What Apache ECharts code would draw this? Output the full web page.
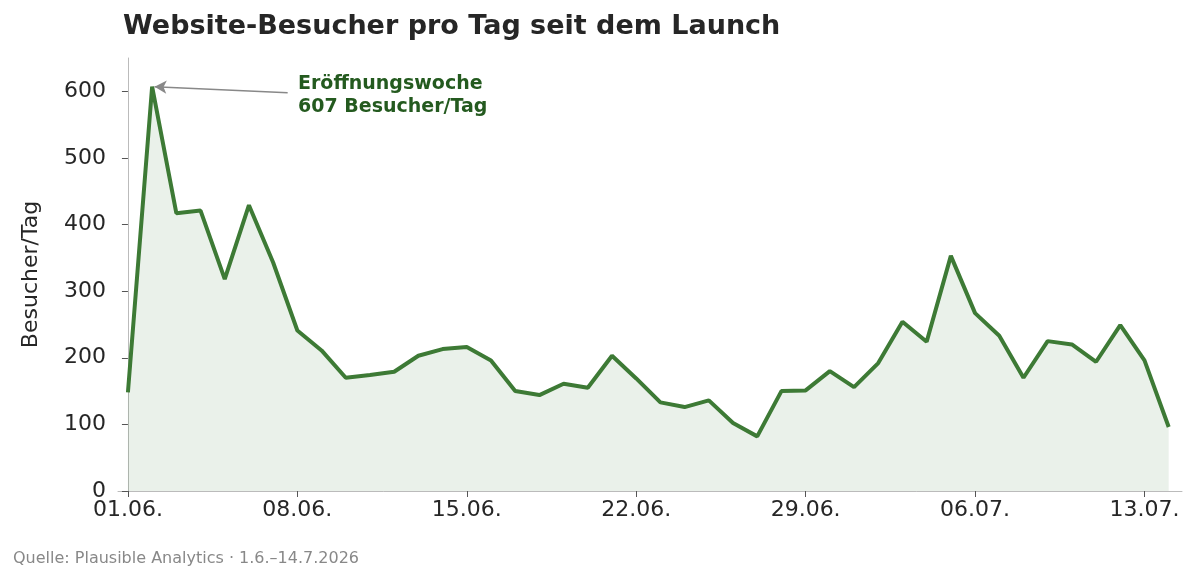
<!DOCTYPE html>
<html><head><meta charset="utf-8">
<script src="https://cdn.jsdelivr.net/npm/echarts@6/dist/echarts.min.js"></script>
<style>html,body{margin:0;padding:0;background:#fff}#c{width:1200px;height:582px}</style>
</head><body><div id="c"></div>
<script>
const dates = ['01.06.','02.06.','03.06.','04.06.','05.06.','06.06.','07.06.','08.06.','09.06.','10.06.','11.06.','12.06.','13.06.','14.06.','15.06.','16.06.','17.06.','18.06.','19.06.','20.06.','21.06.','22.06.','23.06.','24.06.','25.06.','26.06.','27.06.','28.06.','29.06.','30.06.','01.07.','02.07.','03.07.','04.07.','05.07.','06.07.','07.07.','08.07.','09.07.','10.07.','11.07.','12.07.','13.07.','14.07.'];
const visitors = [148,607,417,421,318,429,343,241,211,170,174,179,203,213,216,196,150,144,161,155,203,169,133,126,136,102,82,150,151,180,156,192,254,224,353,267,233,170,225,220,194,249,196,96];
const tickIdx = [0,7,14,21,28,35,42];
const yTicks = [0,100,200,300,400,500,600];
const F = 'DejaVu Sans';
const chart = echarts.init(document.getElementById('c'));
chart.setOption({
  animation:false,
  title:{text:'Website-Besucher pro Tag seit dem Launch',left:118,top:8,textStyle:{fontFamily:F,fontSize:27,fontWeight:'bold',color:'#262626'}},
  grid:{left:118,right:18,top:58,bottom:91},
  xAxis:{type:'value',min:-0.41,max:43.55,
    axisLine:{lineStyle:{color:'#bbb'}},
    axisTick:{customValues:tickIdx,length:6,lineStyle:{color:'#555'}},
    axisLabel:{customValues:tickIdx,formatter:v=>dates[Math.round(v)],fontFamily:F,fontSize:22,color:'#262626',margin:8},
    splitLine:{show:false}},
  yAxis:{type:'value',min:0,max:650,
    name:'Besucher/Tag',nameLocation:'middle',nameGap:76,nameTextStyle:{fontFamily:F,fontSize:22,color:'#262626'},
    axisLine:{show:true,lineStyle:{color:'#bbb'}},
    axisTick:{show:true,customValues:yTicks,length:6,lineStyle:{color:'#555'}},
    axisLabel:{customValues:yTicks,fontFamily:F,fontSize:22,color:'#262626',margin:12},
    splitLine:{show:false}},
  series:[{type:'line',data:visitors.map((v,i)=>[i,v]),symbol:'none',
    lineStyle:{color:'#3d7a35',width:4},
    areaStyle:{color:'rgba(61,122,53,0.15)'},
    markLine:{silent:true,symbol:['none','arrow'],symbolSize:[10,12],
      lineStyle:{color:'#888',width:1.5,type:'solid'},label:{show:false},
      data:[[{coord:[6.6,598]},{coord:[1.1,607]}]]}
  }],
  graphic:[
    {type:'text',left:298,top:73,style:{text:'Eröffnungswoche\n607 Besucher/Tag',font:'bold 19px "DejaVu Sans"',fill:'#245a1f',lineHeight:23}},
    {type:'text',left:13,top:551,style:{text:'Quelle: Plausible Analytics · 1.6.–14.7.2026',font:'16px "DejaVu Sans"',fill:'#888'}}
  ]
});
</script></body></html>
